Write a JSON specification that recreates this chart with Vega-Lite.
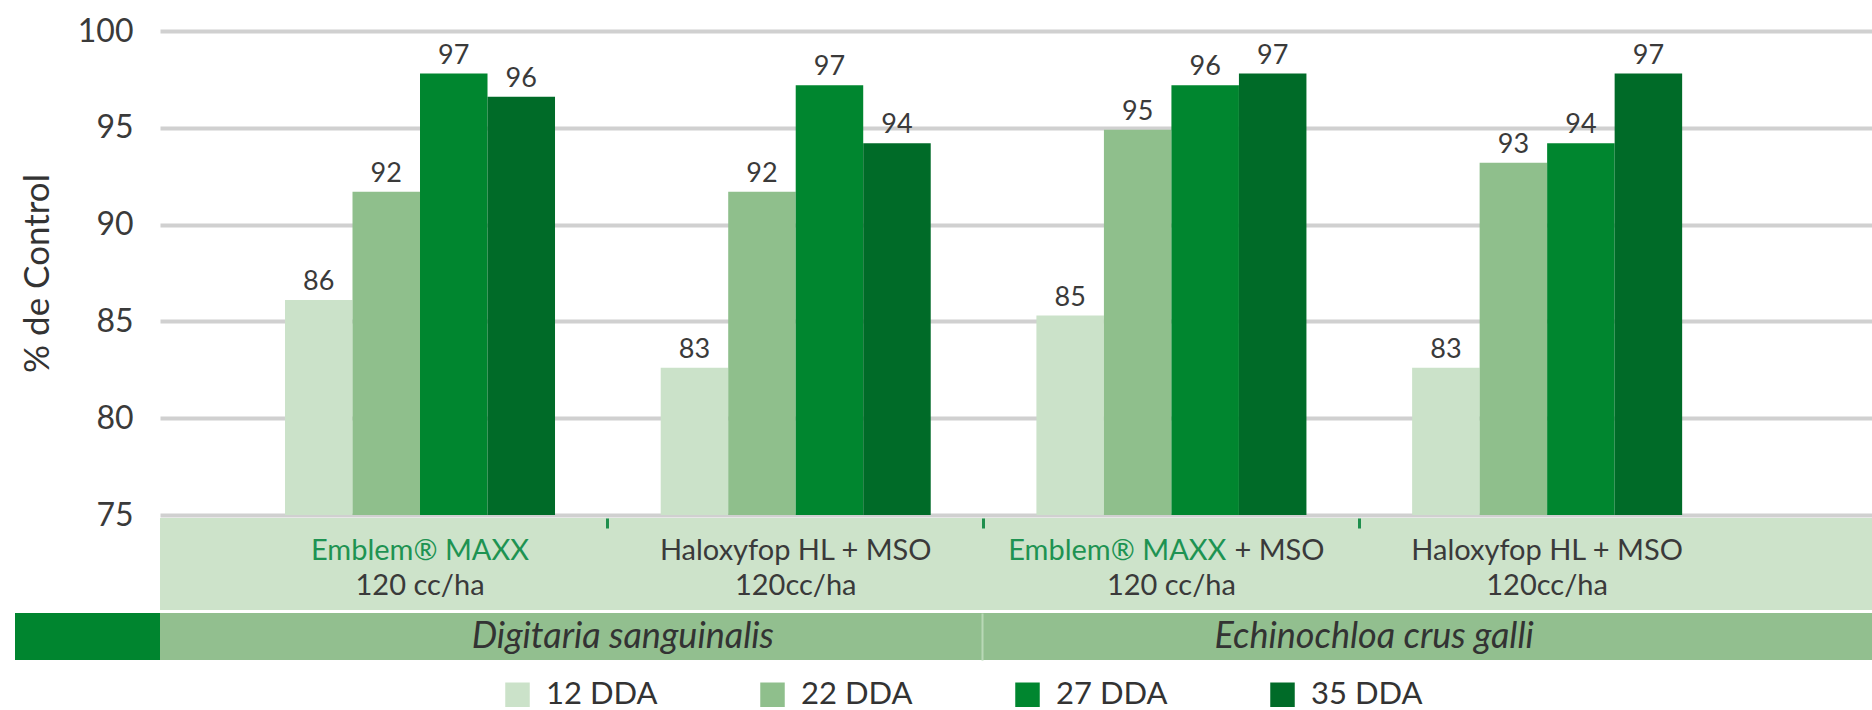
{
  "$schema": "https://vega.github.io/schema/vega-lite/v6.json",
  "padding": {"left": 15, "top": 15, "right": 0, "bottom": 0},
  "background": "white",
  "config": {"font": "Lato", "view": {"stroke": null}},
  "datasets": {
    "barras": [
      {"grupo": "Digitaria sanguinalis · Emblem® MAXX 120 cc/ha", "dda": "12 DDA", "control": 86.1, "etiqueta": "86"},
      {"grupo": "Digitaria sanguinalis · Emblem® MAXX 120 cc/ha", "dda": "22 DDA", "control": 91.7, "etiqueta": "92"},
      {"grupo": "Digitaria sanguinalis · Emblem® MAXX 120 cc/ha", "dda": "27 DDA", "control": 97.8, "etiqueta": "97"},
      {"grupo": "Digitaria sanguinalis · Emblem® MAXX 120 cc/ha", "dda": "35 DDA", "control": 96.6, "etiqueta": "96"},
      {"grupo": "Digitaria sanguinalis · Haloxyfop HL + MSO 120cc/ha", "dda": "12 DDA", "control": 82.6, "etiqueta": "83"},
      {"grupo": "Digitaria sanguinalis · Haloxyfop HL + MSO 120cc/ha", "dda": "22 DDA", "control": 91.7, "etiqueta": "92"},
      {"grupo": "Digitaria sanguinalis · Haloxyfop HL + MSO 120cc/ha", "dda": "27 DDA", "control": 97.2, "etiqueta": "97"},
      {"grupo": "Digitaria sanguinalis · Haloxyfop HL + MSO 120cc/ha", "dda": "35 DDA", "control": 94.2, "etiqueta": "94"},
      {"grupo": "Echinochloa crus galli · Emblem® MAXX + MSO 120 cc/ha", "dda": "12 DDA", "control": 85.3, "etiqueta": "85"},
      {"grupo": "Echinochloa crus galli · Emblem® MAXX + MSO 120 cc/ha", "dda": "22 DDA", "control": 94.9, "etiqueta": "95"},
      {"grupo": "Echinochloa crus galli · Emblem® MAXX + MSO 120 cc/ha", "dda": "27 DDA", "control": 97.2, "etiqueta": "96"},
      {"grupo": "Echinochloa crus galli · Emblem® MAXX + MSO 120 cc/ha", "dda": "35 DDA", "control": 97.8, "etiqueta": "97"},
      {"grupo": "Echinochloa crus galli · Haloxyfop HL + MSO 120cc/ha", "dda": "12 DDA", "control": 82.6, "etiqueta": "83"},
      {"grupo": "Echinochloa crus galli · Haloxyfop HL + MSO 120cc/ha", "dda": "22 DDA", "control": 93.2, "etiqueta": "93"},
      {"grupo": "Echinochloa crus galli · Haloxyfop HL + MSO 120cc/ha", "dda": "27 DDA", "control": 94.2, "etiqueta": "94"},
      {"grupo": "Echinochloa crus galli · Haloxyfop HL + MSO 120cc/ha", "dda": "35 DDA", "control": 97.8, "etiqueta": "97"}
    ],
    "categorias": [
      {"grupo": "Digitaria sanguinalis · Emblem® MAXX 120 cc/ha", "producto": "Emblem® MAXX", "adyuvante": "", "linea1": "Emblem® MAXX", "dosis": "120 cc/ha"},
      {"grupo": "Digitaria sanguinalis · Haloxyfop HL + MSO 120cc/ha", "producto": "Haloxyfop HL", "adyuvante": "+ MSO", "linea1": "Haloxyfop HL + MSO", "dosis": "120cc/ha"},
      {"grupo": "Echinochloa crus galli · Emblem® MAXX + MSO 120 cc/ha", "producto": "Emblem® MAXX", "adyuvante": "+ MSO", "linea1": "Emblem® MAXX + MSO", "dosis": "120 cc/ha"},
      {"grupo": "Echinochloa crus galli · Haloxyfop HL + MSO 120cc/ha", "producto": "Haloxyfop HL", "adyuvante": "+ MSO", "linea1": "Haloxyfop HL + MSO", "dosis": "120cc/ha"}
    ],
    "especies": [
      {"especie": "Digitaria sanguinalis"},
      {"especie": "Echinochloa crus galli"}
    ]
  },
  "columns": 2,
  "spacing": {"row": 3, "column": 0},
  "bounds": "flush",
  "concat": [
    {"width": 145, "height": 484, "data": {"values": []}, "mark": "text"},
    {
      "width": 1712,
      "height": 484,
      "data": {"name": "barras"},
      "encoding": {
        "x": {
          "field": "grupo", "type": "nominal",
          "sort": ["Digitaria sanguinalis · Emblem® MAXX 120 cc/ha", "Digitaria sanguinalis · Haloxyfop HL + MSO 120cc/ha", "Echinochloa crus galli · Emblem® MAXX + MSO 120 cc/ha", "Echinochloa crus galli · Haloxyfop HL + MSO 120cc/ha"],
          "scale": {"type": "band", "paddingInner": 0.2813, "paddingOuter": 0.419, "align": 0.397},
          "axis": null
        },
        "xOffset": {
          "field": "dda", "type": "nominal",
          "sort": ["12 DDA", "22 DDA", "27 DDA", "35 DDA"],
          "scale": {"paddingInner": 0, "paddingOuter": 0}
        },
        "y": {
          "field": "control", "type": "quantitative",
          "scale": {"domain": [75, 100], "nice": false, "zero": false},
          "axis": {
            "values": [75, 80, 85, 90, 95, 100],
            "title": "% de Control",
            "titleFontSize": 35, "titleFontWeight": "normal", "titleColor": "#333333", "titlePadding": 22,
            "labelFontSize": 32, "labelColor": "#3a3a3a", "labelPadding": 27,
            "ticks": false, "domain": false,
            "grid": true, "gridColor": "#d0d0d0", "gridWidth": 4
          }
        }
      },
      "layer": [
        {
          "mark": {"type": "bar"},
          "encoding": {
            "y2": {"datum": 75},
            "color": {
              "field": "dda", "type": "nominal",
              "scale": {"domain": ["12 DDA", "22 DDA", "27 DDA", "35 DDA"], "range": ["#cbe2c9", "#8fbf8c", "#00862f", "#006b28"]},
              "legend": {
                "orient": "none", "legendX": 487, "legendY": 648, "direction": "horizontal",
                "title": null, "symbolType": "square", "symbolSize": 600, "symbolStrokeWidth": 0,
                "labelFontSize": 31, "labelColor": "#333333", "labelOffset": 13, "columnPadding": 99, "padding": 0
              }
            }
          }
        },
        {
          "mark": {"type": "text", "baseline": "alphabetic", "dy": -10, "fontSize": 27, "color": "#3a3a3a"},
          "encoding": {"text": {"field": "etiqueta"}}
        }
      ]
    },
    {"width": 145, "height": 92, "data": {"values": []}, "mark": "text"},
    {
      "width": 1712,
      "height": 92,
      "view": {"fill": "#cde3ca", "stroke": null},
      "data": {"name": "categorias"},
      "encoding": {
        "x": {
          "field": "grupo", "type": "nominal",
          "sort": ["Digitaria sanguinalis · Emblem® MAXX 120 cc/ha", "Digitaria sanguinalis · Haloxyfop HL + MSO 120cc/ha", "Echinochloa crus galli · Emblem® MAXX + MSO 120 cc/ha", "Echinochloa crus galli · Haloxyfop HL + MSO 120cc/ha"],
          "scale": {"type": "band", "paddingInner": 0, "paddingOuter": 0.2785, "align": 0.345},
          "axis": {
            "orient": "bottom", "offset": -92,
            "values": ["Digitaria sanguinalis · Haloxyfop HL + MSO 120cc/ha", "Echinochloa crus galli · Emblem® MAXX + MSO 120 cc/ha", "Echinochloa crus galli · Haloxyfop HL + MSO 120cc/ha"],
            "bandPosition": 0, "labels": false, "domain": false, "ticks": true,
            "tickSize": 10, "tickWidth": 3, "tickColor": "#1f8f4d", "title": null, "grid": false
          }
        }
      },
      "layer": [
        {
          "transform": [{"filter": "datum.producto == 'Emblem® MAXX' && datum.adyuvante == ''"}],
          "mark": {"type": "text", "baseline": "alphabetic", "dy": -4, "fontSize": 29, "color": "#1e9352"},
          "encoding": {"text": {"field": "producto"}}
        },
        {
          "transform": [{"filter": "datum.producto != 'Emblem® MAXX'"}],
          "mark": {"type": "text", "baseline": "alphabetic", "dy": -4, "fontSize": 29, "color": "#3a3a3a"},
          "encoding": {"text": {"field": "linea1"}}
        },
        {
          "transform": [{"filter": "datum.producto == 'Emblem® MAXX' && datum.adyuvante != ''"}],
          "mark": {"type": "text", "baseline": "alphabetic", "align": "right", "dx": 55, "dy": -4, "fontSize": 29, "color": "#1e9352"},
          "encoding": {"text": {"field": "producto"}}
        },
        {
          "transform": [{"filter": "datum.producto == 'Emblem® MAXX' && datum.adyuvante != ''"}],
          "mark": {"type": "text", "baseline": "alphabetic", "align": "left", "dx": 63, "dy": -4, "fontSize": 29, "color": "#3a3a3a"},
          "encoding": {"text": {"field": "adyuvante"}}
        },
        {
          "mark": {"type": "text", "baseline": "alphabetic", "dy": 31, "fontSize": 29, "color": "#3a3a3a"},
          "encoding": {"text": {"field": "dosis"}}
        }
      ]
    },
    {"width": 145, "height": 47, "view": {"fill": "#00852f", "stroke": null}, "data": {"values": []}, "mark": "text"},
    {
      "width": 1712,
      "height": 47,
      "view": {"fill": "#92bf8f", "stroke": null},
      "data": {"name": "especies"},
      "mark": {"type": "text", "baseline": "alphabetic", "dy": 11, "dx": 16, "fontSize": 36, "fontStyle": "italic", "color": "#333333"},
      "encoding": {
        "x": {
          "field": "especie", "type": "nominal",
          "sort": ["Digitaria sanguinalis", "Echinochloa crus galli"],
          "scale": {"type": "band", "paddingInner": 0, "paddingOuter": 0.1392, "align": 0.34},
          "axis": {
            "values": ["Echinochloa crus galli"], "bandPosition": 0,
            "grid": true, "gridColor": "#b9d8b6", "gridWidth": 2,
            "labels": false, "ticks": false, "domain": false, "title": null
          }
        },
        "text": {"field": "especie"}
      }
    }
  ]
}
